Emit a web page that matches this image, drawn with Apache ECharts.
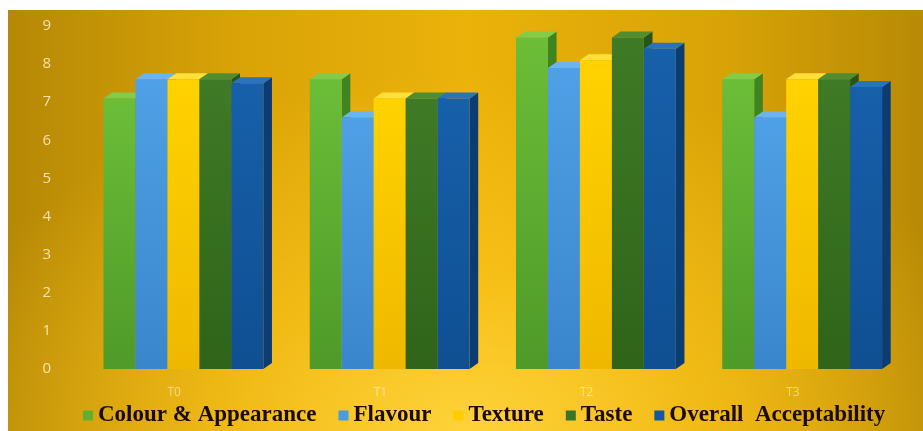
<!DOCTYPE html>
<html>
<head>
<meta charset="utf-8">
<script src="https://cdn.jsdelivr.net/npm/echarts@6/dist/echarts.min.js"></script>
<style>
  html, body { margin: 0; padding: 0; background: #fff; }
  #bg {
    position: absolute; left: 8px; top: 10px; right: 0; bottom: 0;
    background:
      radial-gradient(ellipse 60% 85% at 50% 100%, rgba(255, 212, 60, 0.95) 0%, rgba(255, 200, 30, 0.6) 45%, rgba(255, 190, 20, 0) 100%),
      linear-gradient(90deg, #b58806 0%, #d9a307 25%, #ebb20a 50%, #d9a307 78%, #b88a05 100%);
  }
  #chart { position: absolute; left: 0; top: 0; width: 923px; height: 431px; }
</style>
</head>
<body>
<div id="bg"></div>
<div id="chart"></div>
<script>
// categories and scores
const categories = ['T0', 'T1', 'T2', 'T3']
const colourAppearance = [7.1, 7.6, 8.7, 7.6]
const flavour = [7.6, 6.6, 7.9, 6.6]
const texture = [7.6, 7.1, 8.1, 7.6]
const taste = [7.6, 7.1, 8.7, 7.6]
const overall = [7.5, 7.1, 8.4, 7.4]
const seriesNames = ['Colour & Appearance', 'Flavour', 'Texture', 'Taste', 'Overall  Acceptability']
const yTicks = [0, 1, 2, 3, 4, 5, 6, 7, 8, 9]

// front / side / top shades for each series
const palette = [
  { front: ['#6cbd38', '#4f9a29'], side: '#3f8420', top: '#82cc4a', icon: '#5fb030' },
  { front: ['#4fa0e6', '#3a86cc'], side: '#2c6fb2', top: '#6ab4f0', icon: '#4a9be0' },
  { front: ['#ffd200', '#efb800'], side: '#d6a400', top: '#ffdf3a', icon: '#ffcc00' },
  { front: ['#3f7a26', '#2f6419'], side: '#285416', top: '#4f8c32', icon: '#3c7426' },
  { front: ['#1760aa', '#0f4f92'], side: '#0c3c72', top: '#2a72bc', icon: '#1558a0' }
]

const makeRender = (k) => (params, api) => {
  const ci = api.value(0)
  const v = api.value(1)
  const band = api.size([1, 0])[0]
  const w = band * 0.155
  const base = api.coord([ci, 0])
  const top = api.coord([ci, v])
  const x0 = base[0] - 2.5 * w + k * w + band * 0.045
  const dx = w * 0.27
  const dy = 6
  const c = palette[k]
  return {
    type: 'group',
    children: [
      {
        type: 'polygon',
        shape: { points: [[x0 + w, top[1]], [x0 + w + dx, top[1] - dy], [x0 + w + dx, base[1] - dy], [x0 + w, base[1]]] },
        style: { fill: c.side }
      },
      {
        type: 'polygon',
        shape: { points: [[x0, top[1]], [x0 + dx, top[1] - dy], [x0 + w + dx, top[1] - dy], [x0 + w, top[1]]] },
        style: { fill: c.top }
      },
      {
        type: 'rect',
        shape: { x: x0, y: top[1], width: w, height: base[1] - top[1] },
        style: {
          fill: new echarts.graphic.LinearGradient(0, 0, 0, 1, [
            { offset: 0, color: c.front[0] },
            { offset: 1, color: c.front[1] }
          ])
        }
      }
    ]
  }
}

const values = [colourAppearance, flavour, texture, taste, overall]

const chart = echarts.init(document.getElementById('chart'))
chart.setOption({
  backgroundColor: 'transparent',
  animation: false,
  grid: { left: 71, right: 27, top: 26, bottom: 62 },
  legend: {
    left: 78,
    top: 399,
    icon: 'rect',
    itemWidth: 10,
    itemHeight: 10,
    itemGap: 22,
    textStyle: {
      fontFamily: 'Liberation Serif',
      fontWeight: 'bold',
      fontSize: 23,
      color: '#1a0a00'
    },
    data: seriesNames
  },
  xAxis: {
    type: 'category',
    data: categories,
    axisLine: { show: false },
    axisTick: { show: false },
    axisLabel: { color: 'rgba(255, 250, 230, 0.55)', fontSize: 12, margin: 18, fontFamily: 'Open Sans' }
  },
  yAxis: {
    type: 'value',
    min: 0,
    max: 9,
    interval: 1,
    axisLine: { show: false },
    axisTick: { show: false },
    splitLine: { show: false },
    axisLabel: {
      color: 'rgba(255, 240, 200, 0.85)',
      fontSize: 15,
      margin: 20,
      fontFamily: 'Open Sans',
      formatter: (val) => (yTicks.includes(val) ? String(val) : '')
    }
  },
  series: seriesNames.map((name, k) => ({
    name,
    type: 'custom',
    renderItem: makeRender(k),
    itemStyle: { color: palette[k].icon },
    encode: { x: 0, y: 1 },
    data: categories.map((cat, i) => [i, values[k][i]])
  }))
})
</script>
</body>
</html>
